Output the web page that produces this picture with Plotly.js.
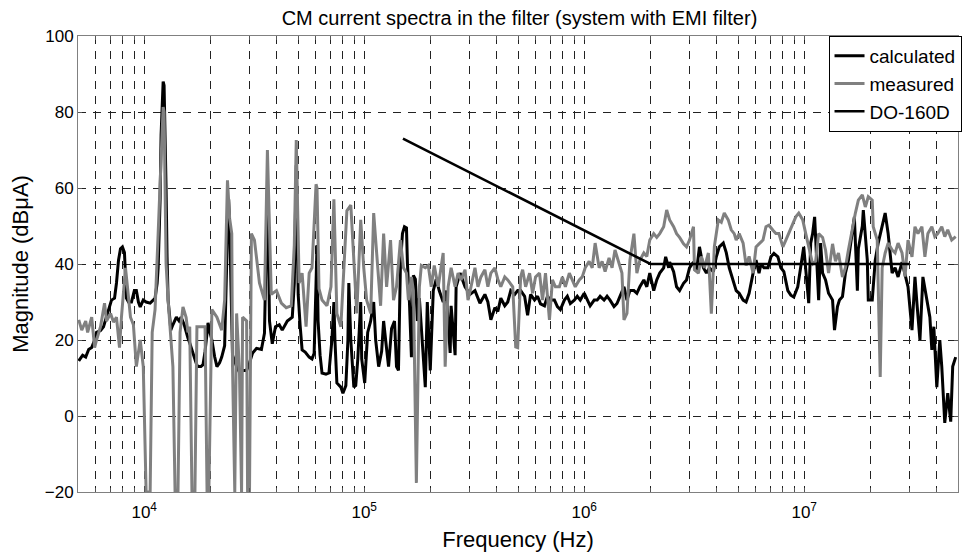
<!DOCTYPE html>
<html>
<head>
<meta charset="utf-8">
<script src="https://cdn.plot.ly/plotly-3.0.1.min.js"></script>
<style>
html,body{margin:0;padding:0;background:#fff;overflow:hidden;}
#chart{width:962px;height:552px;}
</style>
</head>
<body>
<div id="chart"></div>
<script>
// ---- data ----
const calcFreq = [5.04e3,5.25e3,5.42e3,5.59e3,5.77e3,5.95e3,6.07e3,6.33e3,6.53e3,6.74e3,6.88e3,7.10e3,7.33e3,7.48e3,7.64e3,7.80e3,7.96e3,8.13e3,8.22e3,8.30e3,8.48e3,8.75e3,9.02e3,9.21e3,9.41e3,9.59e3,9.90e3,1.02e4,1.064e4,1.10e4,1.12e4,1.145e4,1.157e4,1.169e4,1.181e4,1.193e4,1.206e4,1.219e4,1.231e4,1.244e4,1.257e4,1.270e4,1.284e4,1.311e4,1.32e4,1.35e4,1.40e4,1.44e4,1.47e4,1.52e4,1.55e4,1.58e4,1.61e4,1.67e4,1.72e4,1.75e4,1.81e4,1.85e4,1.89e4,1.93e4,1.95e4,1.99e4,2.03e4,2.09e4,2.14e4,2.20e4,2.25e4,2.32e4,2.35e4,2.37e4,2.39e4,2.42e4,2.445e4,2.47e4,2.52e4,2.63e4,2.71e4,2.80e4,2.92e4,3.01e4,3.11e4,3.24e4,3.41e4,3.52e4,3.56e4,3.59e4,3.63e4,3.67e4,3.71e4,3.82e4,3.95e4,4.11e4,4.24e4,4.47e4,4.71e4,4.81e4,4.86e4,4.91e4,4.96e4,5.01e4,5.11e4,5.22e4,5.39e4,5.62e4,5.79e4,5.92e4,6.04e4,6.10e4,6.17e4,6.30e4,6.43e4,6.70e4,6.91e4,7.13e4,7.28e4,7.36e4,7.51e4,7.83e4,8.00e4,8.25e4,8.43e4,8.51e4,8.69e4,8.97e4,9.15e4,9.35e4,9.64e4,9.74e4,1.005e5,1.037e5,1.07e5,1.104e5,1.127e5,1.163e5,1.20e5,1.225e5,1.251e5,1.29e5,1.331e5,1.373e5,1.402e5,1.431e5,1.461e5,1.492e5,1.524e5,1.556e5,1.572e5,1.605e5,1.639e5,1.673e5,1.708e5,1.744e5,1.781e5,1.837e5,1.895e5,1.935e5,1.996e5,2.06e5,2.125e5,2.192e5,2.285e5,2.357e5,2.458e5,2.483e5,2.589e5,2.616e5,2.727e5,2.872e5,3.026e5,3.187e5,3.357e5,3.536e5,3.648e5,3.764e5,3.924e5,4.048e5,4.176e5,4.353e5,4.491e5,4.634e5,4.830e5,4.983e5,5.141e5,5.359e5,5.529e5,5.704e5,5.947e5,6.135e5,6.329e5,6.598e5,6.807e5,7.023e5,7.321e5,7.552e5,7.792e5,8.123e5,8.380e5,8.645e5,9.012e5,9.298e5,9.593e5,1.000e6,1.032e6,1.064e6,1.110e6,1.145e6,1.181e6,1.231e6,1.270e6,1.310e6,1.366e6,1.409e6,1.454e6,1.516e6,1.564e6,1.613e6,1.682e6,1.735e6,1.790e6,1.866e6,1.925e6,1.986e6,2.070e6,2.136e6,2.204e6,2.297e6,2.345e6,2.420e6,2.445e6,2.549e6,2.629e6,2.713e6,2.828e6,2.917e6,3.010e6,3.138e6,3.237e6,3.340e6,3.481e6,3.592e6,3.705e6,3.863e6,3.985e6,4.111e6,4.286e6,4.422e6,4.562e6,4.755e6,4.906e6,5.062e6,5.276e6,5.443e6,5.616e6,5.854e6,6.040e6,6.231e6,6.362e6,6.563e6,6.842e6,7.059e6,7.282e6,7.592e6,7.832e6,8.080e6,8.423e6,8.691e6,8.965e6,9.346e6,9.643e6,9.947e6,1.026e7,1.048e7,1.070e7,1.092e7,1.115e7,1.151e7,1.163e7,1.187e7,1.212e7,1.250e7,1.290e7,1.345e7,1.373e7,1.416e7,1.446e7,1.492e7,1.539e7,1.588e7,1.656e7,1.690e7,1.744e7,1.762e7,1.837e7,1.856e7,1.935e7,1.955e7,2.038e7,2.103e7,2.169e7,2.261e7,2.333e7,2.407e7,2.509e7,2.588e7,2.671e7,2.784e7,2.872e7,2.963e7,3.089e7,3.187e7,3.254e7,3.357e7,3.463e7,3.610e7,3.725e7,3.803e7,3.883e7,4.005e7,4.133e7,4.219e7,4.353e7,4.491e7,4.633e7,4.730e7,4.880e7];
const calcMag = [14.5,16,15.5,17.5,18,20,22,22.5,23.5,26,28,30.5,31,35,41,44,44.5,43,37,31,30,30,33,33,30,28.7,30.5,30,29.7,30.5,31,35,39,48,57,74,84,88,87,75,60,42,30.5,25,22.6,24,26,25,26,24,22,20.5,19.2,16,14,13,13,13.5,17,21.8,24.5,22,20,15.6,13,14,15.5,18.5,28,40,52,57,50,35,16,13,11.5,12,12,14,16.6,17.8,17.5,21.8,35,50,60,45,25,19,23.5,24,22.6,25,26,35,55,66,50,32,24,17.4,16.8,15.5,15,16.5,35,45,25,16,11.3,11,11.3,20,30,20,8.7,7.6,6,8,20,35,20,7.6,8,15,30,15,8.7,22,25,30,20,13,17,25,20,13,23,25,13,12,40,48,49.8,49.5,40,30,15.5,37,36,25,31,20,7.6,30,12,33,36,33,30,33,16.6,29,16,34,37.6,34,32,33,29.7,32,30,25.3,28.5,27.5,31,29,30,33,32,33,33,31.5,26.5,32,30.5,31.5,29.5,29,31.5,30.5,30.5,28.8,28,30.5,31.5,29.6,30.5,31.5,30.5,32.3,30.5,29,30.5,30.5,31.5,30.5,31.5,30.5,28.8,29.6,31.5,34,30.5,33,33,32.3,34,35.8,34,37.6,33,35.8,37.6,39,41.9,39,40.5,38,34,33,34.9,35.8,39,40.5,38,44.5,39,37.6,39,38,41.9,44.5,45.5,43,39,35.8,33,32.3,30.5,30,32.3,37.6,41,37.6,40,39,39,41.9,42.8,41.9,39,38,33,31.8,31.3,34,39.9,44.5,35.8,29.7,45.5,48,52.4,35.8,30.5,45.5,37.6,35.8,32.3,30.5,22.6,28.8,30.5,31.4,37.6,41,48,52.4,33,44,50,54.2,41,30.5,30.5,41,45.5,50,53.4,48,37.6,39,36.6,40.5,37.6,34,22.6,36.6,29.6,20,36.6,30.5,26,17.4,23.5,7.6,20,13,-1.8,6,-1.5,13,15.5];

const measFreq = [5.04e3,5.20e3,5.42e3,5.53e3,5.77e3,5.95e3,6.07e3,6.33e3,6.60e3,6.74e3,7.03e3,7.25e3,7.48e3,7.72e3,7.88e3,8.22e3,8.39e3,8.66e3,8.93e3,9.21e3,9.59e3,9.90e3,1.02e4,1.064e4,1.087e4,1.12e4,1.157e4,1.193e4,1.219e4,1.231e4,1.244e4,1.257e4,1.284e4,1.35e4,1.381e4,1.424e4,1.455e4,1.50e4,1.55e4,1.58e4,1.61e4,1.648e4,1.70e4,1.736e4,1.829e4,1.89e4,1.93e4,1.967e4,2.03e4,2.14e4,2.25e4,2.32e4,2.39e4,2.445e4,2.50e4,2.52e4,2.58e4,2.63e4,2.71e4,2.77e4,2.80e4,2.92e4,2.95e4,3.01e4,3.07e4,3.17e4,3.34e4,3.52e4,3.63e4,3.71e4,3.78e4,3.99e4,4.20e4,4.42e4,4.66e4,4.81e4,4.91e4,4.96e4,5.06e4,5.22e4,5.44e4,5.62e4,5.79e4,6.04e4,6.10e4,6.23e4,6.43e4,6.77e4,7.06e4,7.28e4,7.51e4,7.83e4,8.08e4,8.34e4,8.69e4,8.97e4,9.25e4,9.64e4,9.95e4,1.026e5,1.07e5,1.104e5,1.139e5,1.187e5,1.225e5,1.264e5,1.317e5,1.359e5,1.402e5,1.461e5,1.508e5,1.556e5,1.588e5,1.639e5,1.673e5,1.726e5,1.781e5,1.818e5,1.895e5,1.955e5,2.017e5,2.081e5,2.169e5,2.238e5,2.285e5,2.333e5,2.407e5,2.483e5,2.589e5,2.671e5,2.755e5,2.872e5,2.963e5,3.057e5,3.187e5,3.288e5,3.392e5,3.536e5,3.648e5,3.764e5,3.924e5,4.048e5,4.176e5,4.353e5,4.491e5,4.731e5,4.881e5,4.983e5,5.141e5,5.249e5,5.415e5,5.645e5,5.824e5,6.008e5,6.264e5,6.462e5,6.667e5,6.950e5,7.170e5,7.397e5,7.711e5,7.956e5,8.207e5,8.556e5,8.827e5,9.106e5,9.493e5,9.794e5,1.010e6,1.053e6,1.087e6,1.121e6,1.169e6,1.206e6,1.244e6,1.297e6,1.338e6,1.380e6,1.439e6,1.484e6,1.516e6,1.564e6,1.613e6,1.682e6,1.735e6,1.790e6,1.866e6,1.925e6,1.986e6,2.070e6,2.136e6,2.204e6,2.297e6,2.370e6,2.445e6,2.549e6,2.629e6,2.713e6,2.828e6,2.917e6,3.010e6,3.138e6,3.170e6,3.305e6,3.410e6,3.518e6,3.667e6,3.783e6,3.903e6,4.069e6,4.198e6,4.331e6,4.514e6,4.658e6,4.805e6,4.906e6,5.062e6,5.276e6,5.443e6,5.616e6,5.854e6,6.040e6,6.231e6,6.496e6,6.701e6,6.914e6,7.207e6,7.435e6,7.671e6,7.997e6,8.250e6,8.512e6,8.873e6,9.154e6,9.444e6,9.845e6,1.016e7,1.048e7,1.092e7,1.127e7,1.163e7,1.212e7,1.250e7,1.290e7,1.345e7,1.387e7,1.431e7,1.492e7,1.539e7,1.588e7,1.656e7,1.708e7,1.762e7,1.837e7,1.895e7,1.955e7,2.038e7,2.059e7,2.147e7,2.169e7,2.215e7,2.261e7,2.333e7,2.407e7,2.509e7,2.588e7,2.671e7,2.784e7,2.872e7,2.963e7,3.089e7,3.187e7,3.288e7,3.427e7,3.536e7,3.648e7,3.803e7,3.923e7,4.047e7,4.219e7,4.353e7,4.491e7,4.681e7,4.880e7];
const measMag = [25.3,22.6,25,22,26,18,20,23.5,29.7,25,27,24.7,26,18,26,39,34,26,24,13,20,13,-20,-20,22,28,48,70,81.3,80,60,40,30.5,13,-20,-20,22,28.7,26,22,23.5,-20,-20,23.5,23.5,23.5,-20,-20,28,26,22.6,30.5,62,52,48,13,-20,27,11.5,-20,26,25,-20,-20,48,46.3,35,30.5,70,50,32,33,29.7,28.5,29,45,72.6,60,35,37.6,23.5,37.6,39,61,60,33.5,30.5,29,34,57,27,23.5,39,54,55.5,39,27,51.6,39,30.5,27,53.4,43.7,29,48,34,46.3,30.5,34,46.3,39,37.6,30.5,36.6,33,-17.6,34,39.6,39,39.6,34,39.6,34,40,42.9,13,34,39,34,37.6,35.8,38.5,30.5,34,39,34,36.6,38.5,34,37.6,39,36,34,36.6,35.8,34,18.2,18,36.6,38.5,34,37.6,32.3,36.6,37.6,30.5,37.6,25.3,35.8,34,34,36.6,34,37.6,35.8,34,35.8,36.6,39,40.7,39,45.5,39,40.7,38,41.6,39,43.7,40.2,37.6,25.3,27,41,48,37.6,41,42.9,42,46.3,48,47,48,49.8,54.2,51.6,49.8,48,47,45.3,44.5,46.3,49.8,38.5,37.6,42,39,42.9,26.9,44.5,51.6,51,53.4,51.6,49,48,46.3,48,45.5,39.6,42,37.6,44.5,45.3,46.3,49.8,50.2,48.9,48,48,44.5,46.3,48,50.7,52.4,53.4,51.6,48,44.5,40,40.7,48,47,43.7,37.6,45.3,40.7,42.9,36.6,39,43.7,49.8,53.4,56.8,58.2,55,57.7,56.8,49.8,46.3,34,10.3,39,42.9,45.5,43.7,42.9,45.5,42.9,36.7,46.3,41.9,49.8,48,49.8,41.9,48,49.8,47.2,48,49.8,47.2,49,46.3,47.2];

const limitFreq = [1.5e5, 2e6, 3e7];
const limitMag = [73, 40, 40];

const seriesNames = ['calculated', 'measured', 'DO-160D'];

const xMajorVals = [1e4, 1e5, 1e6, 1e7];
const xMajorText = ['10<sup>4</sup>', '10<sup>5</sup>', '10<sup>6</sup>', '10<sup>7</sup>'];
const xMinorVals = [5e3,6e3,7e3,8e3,9e3,2e4,3e4,4e4,5e4,6e4,7e4,8e4,9e4,2e5,3e5,4e5,5e5,6e5,7e5,8e5,9e5,2e6,3e6,4e6,5e6,6e6,7e6,8e6,9e6,2e7,3e7,4e7];
const yTickVals = [-20, 0, 20, 40, 60, 80, 100];
const xRange = [5e3, 5e7];
const yRange = [-20, 100];

// ---- chart ----
const FONT = 'Liberation Sans, Arial, sans-serif';
const GRID = {gridcolor: '#222', gridwidth: 1, griddash: '8px,7px'};
const traces = [
  {x: calcFreq, y: calcMag, name: seriesNames[0], type: 'scatter', mode: 'lines',
   line: {color: '#000000', width: 3}},
  {x: measFreq, y: measMag, name: seriesNames[1], type: 'scatter', mode: 'lines',
   line: {color: '#808080', width: 3}},
  {x: limitFreq, y: limitMag, name: seriesNames[2], type: 'scatter', mode: 'lines',
   line: {color: '#000000', width: 2.6}}
];

const layout = {
  width: 962, height: 552,
  margin: {l: 78, r: 0, t: 36, b: 60, pad: 0},
  paper_bgcolor: '#ffffff', plot_bgcolor: '#ffffff',
  font: {family: FONT, color: '#000', size: 17},
  title: {text: 'CM current spectra in the filter (system with EMI filter)',
          font: {family: FONT, size: 20, color: '#000'},
          x: 0.54, xanchor: 'center', xref: 'container',
          y: 0.968, yanchor: 'middle', yref: 'container'},
  showlegend: true,
  legend: {x: 1.004, xanchor: 'right', y: 1, yanchor: 'top',
           bgcolor: '#ffffff', bordercolor: '#000000', borderwidth: 1,
           font: {family: FONT, size: 19, color: '#000'},
           itemwidth: 30, tracegroupgap: 0},
  xaxis: Object.assign({
    type: 'log',
    range: [Math.log10(xRange[0]), Math.log10(xRange[1])],
    tickmode: 'array', tickvals: xMajorVals, ticktext: xMajorText,
    ticks: 'inside', ticklen: 4, tickcolor: '#555', tickwidth: 1,
    ticklabelstandoff: 5,
    showline: true, linecolor: '#808080', linewidth: 1, mirror: 'ticks',
    showgrid: true,
    minor: Object.assign({tickmode: 'array', tickvals: xMinorVals, ticks: 'inside', ticklen: 4,
            tickcolor: '#555', tickwidth: 1, showgrid: true}, GRID),
    zeroline: false,
    tickfont: {family: FONT, size: 17, color: '#000'},
    title: {text: 'Frequency (Hz)', font: {family: FONT, size: 22, color: '#000'}, standoff: 10},
    automargin: false
  }, GRID),
  yaxis: Object.assign({
    range: yRange,
    tickmode: 'array', tickvals: yTickVals,
    ticks: 'inside', ticklen: 4, tickcolor: '#555', tickwidth: 1,
    showline: true, linecolor: '#808080', linewidth: 1, mirror: 'ticks',
    showgrid: true,
    zeroline: false,
    tickfont: {family: FONT, size: 17, color: '#000'},
    title: {text: 'Magnitude (dBμA)', font: {family: FONT, size: 22, color: '#000'}, standoff: 10},
    automargin: false
  }, GRID)
};

Plotly.newPlot('chart', traces, layout, {displayModeBar: false, staticPlot: true});
</script>
</body>
</html>
